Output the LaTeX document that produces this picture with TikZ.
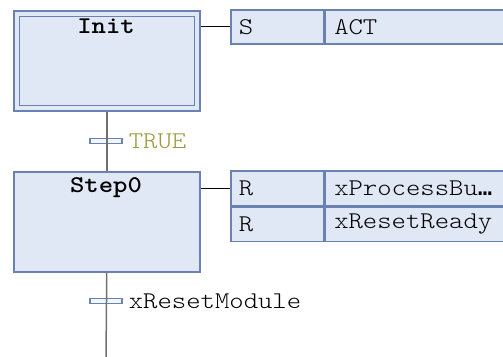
\documentclass[tikz,border=0pt]{standalone}
\usepackage{fontspec}
\setmonofont{Latin Modern Mono Light}[FakeStretch=1.14]
\usepackage{tikz}
\usetikzlibrary{positioning}
\definecolor{stepfill}{HTML}{E1E8F5}
\definecolor{stepline}{HTML}{6A82B2}
\definecolor{wire}{HTML}{707070}
\definecolor{condtrue}{HTML}{9A9A3C}
\tikzset{stepbox/.style={draw=stepline, fill=stepfill, line width=1.5pt, inner sep=0pt},
  steptitle/.style={font=\ttfamily\bfseries\fontsize{24}{28}\selectfont, inner sep=0pt},
  actcell/.style={draw=stepline, fill=stepfill, line width=1.5pt, minimum height=34pt,
    inner xsep=8pt, inner ysep=0pt, align=left, anchor=north west},
  trbar/.style={draw=stepline, fill=stepfill!40, line width=1.3pt, minimum width=32pt,
    minimum height=4.5pt, inner sep=0pt},
  trlabel/.style={inner sep=0pt, anchor=west},
  wire/.style={draw=wire, line width=1.5pt},
  link/.style={draw=black, line width=1.2pt}}

\begin{document}
\begin{tikzpicture}[x=1pt, y=-1pt, font=\ttfamily\fontsize{24}{28}\selectfont]
    \path[use as bounding box] (0,0) rectangle (503,356);

    % initial step (double frame)
    \node[stepbox, minimum width=186pt, minimum height=100pt, anchor=north west] at (13,10) (Init) {};
    \node[stepbox, minimum width=175pt, minimum height=89pt] at (Init.center) (InitIn) {};
    \node[steptitle] at (106,26) (InitName) {Init};

    % step
    \node[stepbox, minimum width=186pt, minimum height=100pt, anchor=north west] at (13,171) (Step0) {};
    \node[steptitle] at (106,188) (Step0Name) {Step0};

    % actions
    \node[actcell, text width=77pt] at (230,9) (InitQ) {S};
    \node[actcell, text width=200pt, inner xsep=9pt] at (InitQ.north east) (InitAct) {ACT};
    \node[actcell, text width=77pt, minimum height=35pt] at (230,170) (StepQa) {R};
    \node[actcell, text width=200pt, inner xsep=9pt, minimum height=35pt] at (StepQa.north east) (StepActa) {xProcessBu{\fontspec{DejaVu Sans Mono}\char"2026}};
    \node[actcell, text width=77pt] at (StepQa.south west) (StepQb) {R};
    \node[actcell, text width=200pt, inner xsep=9pt] at (StepQb.north east) (StepActb) {xResetReady};

    \draw[link] (InitQ.west) -- (InitQ.west -| Init.east);
    \draw[link] (StepQa.west) -- (StepQa.west -| Step0.east);

    % transitions
    \node[trbar] at (106,141) (T1) {};
    \node[trbar] at (106,301) (T2) {};
    \node[trlabel, text=condtrue, right=6pt of T1] (T1Cond) {TRUE};
    \node[trlabel, right=6pt of T2] (T2Cond) {xResetModule};
    \coordinate (End) at (106,360);

    \draw[wire] (Init.south) -- (Step0.north);
    \draw[wire] (Step0.south) -- (End);
\end{tikzpicture}
\end{document}
